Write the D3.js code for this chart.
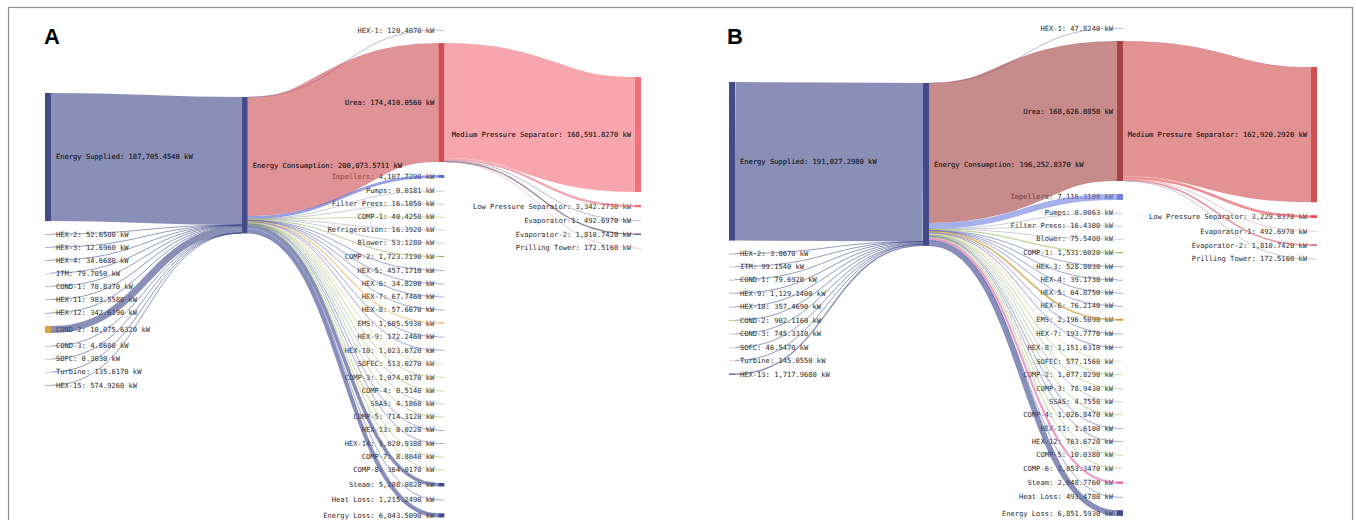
<!DOCTYPE html>
<html><head><meta charset="utf-8">
<script src="https://cdn.jsdelivr.net/npm/d3@7"></script>
<style>body{margin:0;background:#fff} svg{display:block}</style>
</head><body><svg id="chart" width="1356" height="520"></svg>
<script>
// ---------------- DATA ----------------
// Panel A
const supplyA = 187705.454;
const leftNamesA = ["HEX-2","HEX-3","HEX-4","ITM","COND-1","HEX-11","HEX-12","COND-2","COND-3","SOFC","Turbine","HEX-15"];
const leftValuesA = [52.65,12.696,34.668,79.705,70.837,983.558,342.619,10075.632,4.86,0.303,135.617,574.926];
const useNamesA = ["HEX-1","Urea","Impellers","Pumps","Filter Press","COMP-1","Refrigeration","Blower","COMP-2","HEX-5","HEX-6","HEX-7","HEX-8","EMS","HEX-9","HEX-10","SOFEC","COMP-3","COMP-4","SSAS","COMP-5","HEX-13","HEX-14","COMP-7","COMP-8","Steam","Heat Loss","Energy Loss"];
const useValuesA = [120.407,174410.056,4107.729,0.0181,16.105,40.425,16.392,53.128,1723.719,457.171,34.82,67.746,57.667,1605.593,172.246,1023.672,513.027,1074.017,0.514,4.186,714.312,0.022,1020.938,8.804,364.017,5208.082,1215.249,6043.509];
const ureaNamesA = ["Medium Pressure Separator","Low Pressure Separator","Evaporator-1","Evaporator-2","Prilling Tower"];
const ureaValuesA = [168591.827,3342.273,492.697,1810.742,172.516];

// Panel B
const supplyB = 191027.298;
const leftNamesB = ["HEX-2","ITM","COND-1","HEX-9","HEX-10","COND-2","COND-3","SOFC","Turbine","HEX-13"];
const leftValuesB = [3.067,99.154,79.692,1129.14,357.469,902.116,745.331,46.547,145.055,1717.968];
const useNamesB = ["HEX-1","Urea","Impellers","Pumps","Filter Press","Blower","COMP-1","HEX-3","HEX-4","HEX-5","HEX-6","EMS","HEX-7","HEX-8","SOFEC","COMP-2","COMP-3","SSAS","COMP-4","HEX-11","HEX-12","COMP-5","COMP-6","Steam","Heat Loss","Energy Loss"];
const useValuesB = [47.824,168626.085,7116.31,0.0063,16.43,75.54,1531.602,528.803,39.173,64.875,76.214,2196.509,193.777,1151.631,577.156,1077.829,78.943,4.755,1026.847,1.61,763.672,10.038,1053.347,2648.776,493.478,6851.593];
const ureaNamesB = ["Medium Pressure Separator","Low Pressure Separator","Evaporator-1","Evaporator-2","Prilling Tower"];
const ureaValuesB = [162920.292,3229.837,492.697,1810.742,172.516];

const panelLetters = ["A","B"];

// ---------------- STYLE ----------------
const baseColor = name => {
  if (name.startsWith("Energy S") || name.startsWith("Energy C")) return "#424a8c";
  if (name.startsWith("HEX")) return "#5b63ab";
  if (name.startsWith("COMP")) return "#9cb85a";
  if (name.startsWith("COND")) return "#8a8aa8";
  if (name === "SOFEC") return "#f0c080";
  if (["Pumps","Filter Press","Refrigeration","Blower","SSAS","ITM","SOFC","Turbine"].includes(name)) return "#a4a4bc";
  if (name === "Heat Loss") return "#5b63ab";
  if (name === "Energy Loss") return "#3f4890";
  return "#888";
};
const colorsA = {"Urea":"#cc5156","Medium Pressure Separator":"#f2707c","Low Pressure Separator":"#f06c7a","Evaporator-1":"#8a7a9a","Evaporator-2":"#5a3060","Prilling Tower":"#e8a0b0","Impellers":"#5464d0","EMS":"#f0a030","Steam":"#3f4890","COND-2":"#d9a53a","HEX-1":"#8088c0"};
const colorsB = {"Urea":"#a54343","Medium Pressure Separator":"#d04f50","Low Pressure Separator":"#e84850","Evaporator-1":"#d8a0a8","Evaporator-2":"#e05060","Prilling Tower":"#9a9ab0","Impellers":"#7080e0","EMS":"#c8922a","Steam":"#e060a8","COND-2":"#b8902a","COND-3":"#9a9a78","Turbine":"#f0a0c8","HEX-1":"#8088c0"};

const fmt = d3.format(",.4f");
const svg = d3.select("#chart");

svg.append("rect").attr("x",8.5).attr("y",7.5).attr("width",1344).attr("height",600)
  .attr("fill","none").attr("stroke","#8c8c8c").attr("stroke-width",1.2);

function buildPanel(cfg) {
  const nodes = new Map();
  const node = (name, col) => {
    if (!nodes.has(name)) nodes.set(name, {name, col, sourceLinks: [], targetLinks: []});
    return nodes.get(name);
  };
  const links = [];
  const link = (s, t, v) => { const l = {source: s, target: t, value: v}; s.sourceLinks.push(l); t.targetLinks.push(l); links.push(l); };
  const es = node("Energy Supplied", 0);
  const lefts = cfg.leftNames.map(n => node(n, 0));
  const ec = node("Energy Consumption", 1);
  const uses = cfg.useNames.map(n => node(n, 2));
  const urea = nodes.get("Urea");
  const outs = cfg.ureaNames.map(n => node(n, 3));
  link(es, ec, cfg.supply);
  lefts.forEach((n, i) => link(n, ec, cfg.leftValues[i]));
  uses.forEach((n, i) => link(ec, n, cfg.useValues[i]));
  outs.forEach((n, i) => link(urea, n, cfg.ureaValues[i]));

  const cols = [[es, ...lefts], [ec], uses, outs];
  const xs = d3.scalePoint().domain([0,1,2,3]).range(cfg.xRange);
  const h = d3.scaleLinear().domain([0, 200000]).range([0, cfg.hMax]);
  const nw = 6, pad = 13;
  cols.forEach((col, ci) => {
    let y = cfg.yStarts[ci];
    col.forEach(n => {
      n.value = Math.max(d3.sum(n.sourceLinks, l => l.value), d3.sum(n.targetLinks, l => l.value));
      n.x0 = xs(ci); n.x1 = n.x0 + nw;
      n.y0 = y; n.y1 = y + h(n.value);
      y = n.y1 + pad;
    });
  });
  links.forEach(l => l.width = h(l.value));
  nodes.forEach(n => {
    n.sourceLinks.sort((a, b) => a.target.y0 - b.target.y0);
    n.targetLinks.sort((a, b) => a.source.y0 - b.source.y0);
    let y0 = n.y0, y1 = n.y0;
    n.sourceLinks.forEach(l => { l.y0 = y0 + l.width / 2; y0 += l.width; });
    n.targetLinks.forEach(l => { l.y1 = y1 + l.width / 2; y1 += l.width; });
  });
  const color = n => cfg.colors[n.name] || baseColor(n.name);

  const g = svg.append("g");
  const path = d3.linkHorizontal().source(d => [d.source.x1, d.y0]).target(d => [d.target.x0, d.y1]);

  // labels (under links' thin lines look like reference)
  g.append("g").selectAll("text").data([...nodes.values()]).join("text")
    .attr("x", d => d.col < 2 ? d.x1 + 5 : d.x0 - 4)
    .attr("y", d => (d.y0 + d.y1) / 2)
    .attr("dy", "0.35em")
    .attr("text-anchor", d => d.col < 2 ? "start" : "end")
    .attr("font-family", "'DejaVu Sans Mono', 'Liberation Mono', monospace")
    .attr("font-size", 7.1)
    .attr("fill", "#2a2a2a")
    .text(d => `${d.name}: ${fmt(d.value)} kW`);

  g.append("g").attr("fill", "none").selectAll("path").data(links).join("path")
    .attr("d", path)
    .attr("stroke", d => color(d.target))
    .attr("stroke-opacity", 0.62)
    .attr("stroke-width", d => Math.max(0.9, d.width));

  g.append("g").selectAll("rect").data([...nodes.values()]).join("rect")
    .attr("x", d => d.x0).attr("y", d => d.y0)
    .attr("width", nw).attr("height", d => Math.max(1, d.y1 - d.y0))
    .attr("fill", d => color(d))
    .attr("opacity", d => (d.y1 - d.y0) < 1 ? 0.5 : 1);

  // re-draw big labels on top of bands
  g.append("g").selectAll("text").data([...nodes.values()].filter(n => n.y1 - n.y0 > 20)).join("text")
    .attr("x", d => d.col < 2 ? d.x1 + 5 : d.x0 - 4)
    .attr("y", d => (d.y0 + d.y1) / 2)
    .attr("dy", "0.35em")
    .attr("text-anchor", d => d.col < 2 ? "start" : "end")
    .attr("font-family", "'DejaVu Sans Mono', 'Liberation Mono', monospace")
    .attr("font-size", 7.1)
    .attr("fill", "#2a2a2a")
    .text(d => `${d.name}: ${fmt(d.value)} kW`);

  svg.append("text").attr("x", cfg.letterX).attr("y", 43.5)
    .attr("font-family", "'Liberation Sans', Arial, sans-serif").attr("font-weight", "bold")
    .attr("font-size", 22).attr("fill", "#000").text(cfg.letter);
}

buildPanel({letter: panelLetters[0], letterX: 44, supply: supplyA, leftNames: leftNamesA, leftValues: leftValuesA,
  useNames: useNamesA, useValues: useValuesA, ureaNames: ureaNamesA, ureaValues: ureaValuesA,
  xRange: [45, 635], yStarts: [93, 97, 30, 77], hMax: 136.4, colors: colorsA});
buildPanel({letter: panelLetters[1], letterX: 727, supply: supplyB, leftNames: leftNamesB, leftValues: leftValuesB,
  useNames: useNamesB, useValues: useValuesB, ureaNames: ureaNamesB, ureaValues: ureaValuesB,
  xRange: [729, 1311], yStarts: [82, 83, 28, 67], hMax: 166, colors: colorsB});
</script></body></html>
